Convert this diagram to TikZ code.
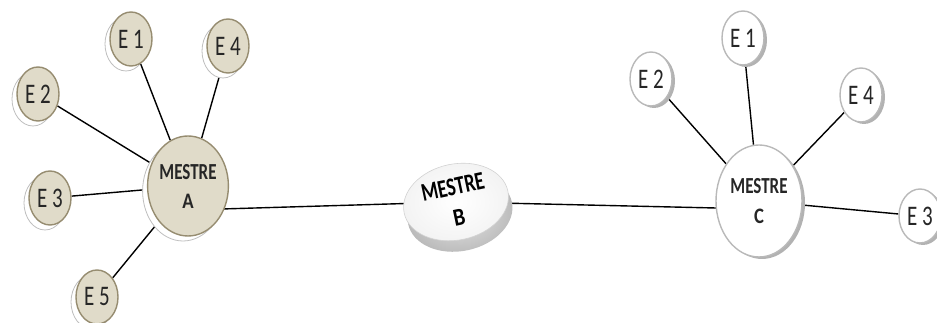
\documentclass[tikz,border=0pt]{standalone}
\usepackage{fontspec}
\setmainfont{Carlito}
\usetikzlibrary{shapes.geometric,shadows,backgrounds}
\definecolor{tFace}{RGB}{224,219,201}
\definecolor{tLine}{RGB}{150,140,112}
\newcommand{\tall}[1]{\scalebox{1}[1.35]{#1}}
\newcommand{\lett}[1]{\scalebox{1.1}[1.3]{#1}}

\begin{document}
\begin{tikzpicture}[x=1pt,y=1pt,
  tn/.style={ellipse,draw=tLine,line width=1.4pt,fill=tFace,inner sep=0pt,
    general shadow={shadow xshift=-5pt,shadow yshift=-5pt,fill=white,draw=gray!50,line width=0.8pt}},
  wn/.style={ellipse,draw=gray!55,line width=1.4pt,fill=white,inner sep=0pt,
    general shadow={shadow xshift=3pt,shadow yshift=-2pt,fill=gray!60}},
  pk/.style={ellipse,draw=gray!35,line width=0.6pt,inner color=white,outer color=gray!10,inner sep=0pt,
    minimum width=106pt,minimum height=76pt,rotate=12,
    general shadow={shadow xshift=4pt,shadow yshift=-11pt,inner color=gray!20,outer color=gray!55}},
  e/.style={minimum width=42pt,minimum height=54pt,text=black!85,font=\fontsize{21}{24}\selectfont},
  m/.style={align=center,text=black!85,font=\fontsize{17}{20}\selectfont\bfseries},
  l/.style={line width=1.4pt}]
  \useasboundingbox (0,0) rectangle (937,323);
  % left group
  \node[tn,m,minimum width=78pt,minimum height=100pt] (a) at (188,137) {\tall{MESTRE}\\[9pt]\lett{A}};
  \node[tn,e] (a1) at (131,284) {\tall{E 1}};
  \node[tn,e] (a2) at (38,229) {\tall{E 2}};
  \node[tn,e] (a3) at (50,125) {\tall{E 3}};
  \node[tn,e] (a4) at (228,277) {\tall{E 4}};
  \node[tn,e] (a5) at (97,26) {\tall{E 5}};
  % middle
  \node[pk,m,text=black,font=\fontsize{19}{20}\selectfont\bfseries] (b) at (456,121) {\tall{MESTRE}\\[11pt]\lett{B}};
  % right group
  \node[wn,m,minimum width=86pt,minimum height=112pt] (c) at (759,122) {\tall{MESTRE}\\[10pt]\lett{C}};
  \node[wn,e] (c1) at (743,285) {\tall{E 1}};
  \node[wn,e] (c2) at (651,244) {\tall{E 2}};
  \node[wn,e] (c3) at (920,107) {\tall{E 3}};
  \node[wn,e] (c4) at (861,228) {\tall{E 4}};
  \begin{scope}[on background layer]
    \foreach \u/\w in {a/a1,a/a2,a/a3,a/a4,a/a5,c/c1,c/c2,c/c3,c/c4} \draw[l] (\u)--(\w);
    \draw[l] ([yshift=-24pt]a.center)--(b.center);
    \draw[l] (b.center)--([yshift=-8pt]c.center);
  \end{scope}
\end{tikzpicture}
\end{document}
